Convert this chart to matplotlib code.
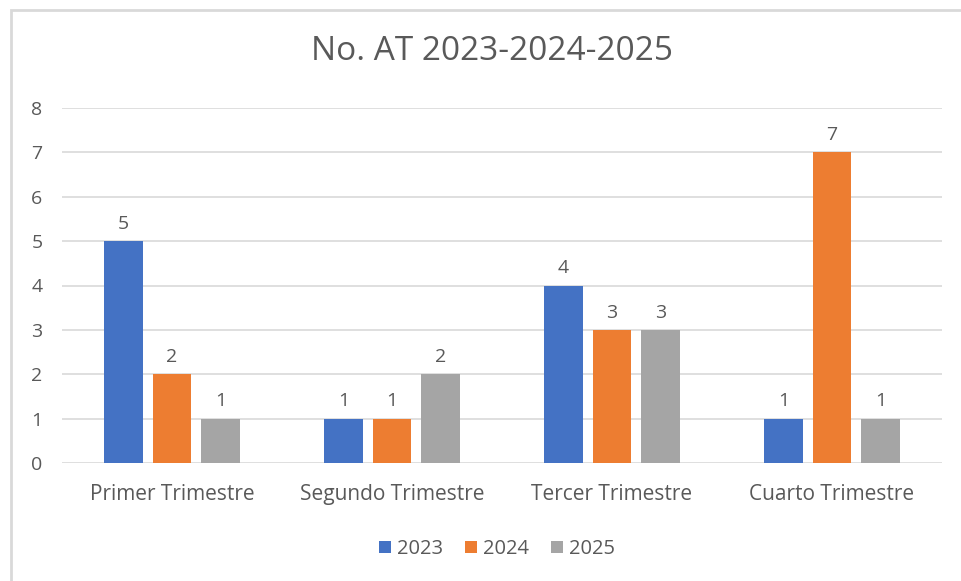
import matplotlib
matplotlib.use("Agg")
import matplotlib.pyplot as plt
import numpy as np
from matplotlib.patches import Rectangle

categories = ["Primer Trimestre", "Segundo Trimestre", "Tercer Trimestre", "Cuarto Trimestre"]
years = ["2023", "2024", "2025"]
values_2023 = [5, 1, 4, 1]
values_2024 = [2, 1, 3, 7]
values_2025 = [1, 2, 3, 1]
colors = ["#4472C4", "#ED7D31", "#A5A5A5"]

plt.rcParams["font.family"] = ["Open Sans", "DejaVu Sans"]
text_color = "#595959"

fig = plt.figure(figsize=(9.62, 5.81), dpi=100)
fig.patches.append(Rectangle((11 / 962, -0.1), 2, 1 - 10 / 581 + 0.1,
                             transform=fig.transFigure, fill=False,
                             edgecolor="#D9D9D9", linewidth=2))
ax = fig.add_axes([62 / 962, 1 - 463 / 581, 880 / 962, 355 / 581])

x = np.arange(len(categories))
width = 0.175
offset = 0.22
for i, (vals, label) in enumerate(zip([values_2023, values_2024, values_2025], years)):
    bars = ax.bar(x + (i - 1) * offset, vals, width, color=colors[i], label=label, zorder=3)
    ax.bar_label(bars, padding=6, color=text_color, fontsize=14)

ax.set_xlim(-0.5, 3.5)
ax.set_ylim(0, 8)
ax.set_yticks(range(0, 9))
ax.set_xticks(x)
ax.set_xticklabels(categories)
ax.grid(axis="y", color="#D9D9D9", linewidth=1.2, zorder=0)
for s in ax.spines.values():
    s.set_visible(False)
ax.tick_params(length=0, colors=text_color, labelsize=14)
ax.tick_params(axis="x", pad=15, labelsize=15)
ax.tick_params(axis="y", pad=14)

fig.text(492 / 962, 1 - 52 / 581, "No. AT 2023-2024-2025", ha="center", va="center",
         fontsize=24, color=text_color)
fig.legend(loc="center", bbox_to_anchor=(497 / 962, 1 - 549 / 581), ncol=3,
           frameon=False, fontsize=14.5, labelcolor=text_color, handlelength=0.6,
           handleheight=0.6, handletextpad=0.3, columnspacing=1.1)

fig.savefig("out.png", dpi=100)
